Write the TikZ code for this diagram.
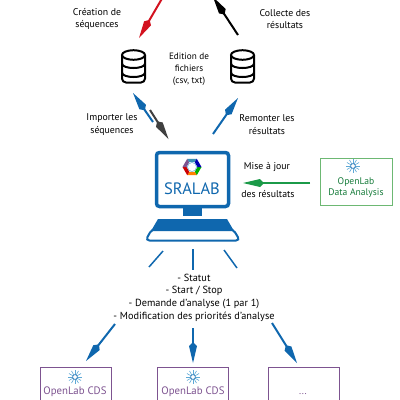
\documentclass[tikz,border=0pt]{standalone}
\usepackage{fontspec}
\setmainfont{PT Sans}
\usetikzlibrary{arrows.meta}
\definecolor{bleu}{HTML}{0F67AE}
\definecolor{rouge}{HTML}{D3121F}
\definecolor{vert}{HTML}{1B9A48}
\definecolor{vertclair}{HTML}{6DB873}
\definecolor{violet}{HTML}{7D5390}
\definecolor{ciel}{HTML}{5FA9D6}
\newcommand{\soleil}[2]{%
  \foreach \a in {0,30,...,330}{\draw[ciel, line width=0.6pt] (#1,#2) -- ++(\a:7);}
  \fill[white] (#1,#2) circle (2.6);
  \draw[bleu, line width=0.6pt] (#1,#2) circle (2.4);
}
\begin{document}
\begin{tikzpicture}[
  x=1pt, y=-1pt,
  txt/.style={align=center, inner sep=0pt, font=\fontsize{9.8}{12.6}\selectfont},
  bdd/.style={minimum width=25pt, minimum height=33pt, inner sep=0pt},
  fleche/.style={-{Kite[length=21pt, width=8pt, inset=4pt]}, line width=2pt},
  rayon/.style={bleu, line width=1.5pt},
  ecran/.style={draw=bleu, fill=white, line width=3.5pt, rounded corners=3pt, minimum width=72pt, minimum height=54pt},
  boite/.style={draw=violet, line width=0.9pt, minimum width=71pt, minimum height=60pt, anchor=north west, inner sep=0pt},
  logiciel/.style={txt, text=violet, font=\fontsize{10.8}{11.5}\selectfont}
]
\useasboundingbox (0,0) rectangle (400,400);
\clip (0,0) rectangle (400,400);

\node[txt] (creation) at (97,19) {Création de\\séquences};
\node[txt] (collecte) at (285,19) {Collecte des\\résultats};
\node[txt, font=\fontsize{9.2}{11.8}\selectfont] (edition) at (189,69) {Edition de\\fichiers\\(csv, txt)};
\node[txt] (importer) at (112,124.5) {Importer les\\séquences};
\node[txt] (remonter) at (267,124.5) {Remonter les\\résultats};
\node[txt] (maj) at (267,167) {Mise à jour};
\node[txt] (desres) at (268,194) {des résultats};
\node[txt, font=\fontsize{10.3}{12.7}\selectfont] (liste) at (194,297.5) {- Statut\\- Start / Stop\\- Demande d'analyse (1 par 1)\\- Modification des priorités d'analyse};

% bases de donnees
\foreach \nom/\cx in {bddG/133.5, bddD/242.5}{
  \node[bdd] (\nom) at (\cx,66.5) {};
  \begin{scope}[shift={(\cx,66.5)}, line width=2pt]
    \draw (0,-11.5) ellipse (11.5 and 4.8);
    \draw[rounded corners=4pt] (-11.5,-11.5) -- (-11.5,16) -- (11.5,16) -- (11.5,-11.5);
    \draw (-11.5,-3) .. controls (-11.5,3) and (11.5,3) .. (11.5,-3);
    \draw (-11.5,6) .. controls (-11.5,12) and (11.5,12) .. (11.5,6);
  \end{scope}
}

% poste SRALAB
\fill[bleu] (183,207) rectangle (202,216);
\node[ecran] (sralab) at (192.5,179.5) {};
\node[inner sep=0pt, text=bleu, font=\fontsize{16.5}{17}\selectfont] (nomsralab) at (192,189) {SRALAB};
\foreach \a/\c in {30/green!70!black, 90/orange, 150/red!80!black, 210/violet, 270/cyan!70!black, 330/blue!70!black}{
  \fill[\c, shift={(192,167)}] (\a-30:9.5) -- (\a+30:9.5) -- (\a+30:5.5) -- (\a-30:5.5) -- cycle;
}
\node[circle, fill=white, draw=ciel, line width=0.5pt, minimum size=9pt, inner sep=0pt] (logo) at (192,167) {};
\draw[bleu, line width=2pt, rounded corners=4pt, fill=white] (152,229) -- (233,229) -- (240,240.5) -- (145.5,240.5) -- cycle;
\fill[bleu] (158,219) -- (227,219) -- (234,231) -- (151,231) -- cycle;

\coordinate (r1a) at (163,251); \coordinate (r1b) at (149,267);
\coordinate (r2a) at (193,249); \coordinate (r2b) at (193,270);
\coordinate (r3a) at (224,250); \coordinate (r3b) at (237,268);
\draw[rayon] (r1a) -- (r1b);
\draw[rayon] (r2a) -- (r2b);
\draw[rayon] (r3a) -- (r3b);

% data analysis
\node[draw=vertclair, line width=0.9pt, minimum width=72pt, minimum height=47pt, inner sep=0pt] (analysis) at (356,181.5) {};
\soleil{353}{166}
\node[logiciel, text=vert!80!black, font=\fontsize{9.6}{11.5}\selectfont] (nomanalysis) at (356,187.5) {OpenLab\\Data Analysis};

% postes CDS
\node[boite] (cds1) at (40,367) {};
\node[boite] (cds2) at (157,367) {};
\node[boite] (cds3) at (268,367) {};
\soleil{75}{377}
\soleil{193}{377}
\node[logiciel] (nomcds1) at (75,392) {OpenLab CDS};
\node[logiciel] (nomcds2) at (193,392) {OpenLab CDS};
\node[txt, text=violet] (nomcds3) at (303,394) {...};

% fleches
\coordinate (a1) at (174,-22); \coordinate (b1) at (139,38);
\coordinate (a2) at (238,35); \coordinate (b2) at (213,-3);
\coordinate (a3) at (153,122); \coordinate (b3) at (133,93);
\coordinate (a4) at (150,110); \coordinate (b4) at (168.5,139);
\coordinate (a5) at (213,134); \coordinate (b5) at (238,98);
\coordinate (a6) at (310,183); \coordinate (b6) at (243,183);
\coordinate (a7) at (115,324); \coordinate (b7) at (86,361);
\coordinate (a8) at (193,328); \coordinate (b8) at (193,363);
\coordinate (a9) at (272,323); \coordinate (b9) at (297,363);
\draw[fleche, rouge] (a1) -- (b1);
\draw[fleche, black] (a2) -- (b2);
\draw[fleche, bleu] (a3) -- (b3);
\draw[fleche, black!75] (a4) -- (b4);
\draw[fleche, bleu] (a5) -- (b5);
\draw[fleche, vert] (a6) -- (b6);
\draw[fleche, bleu] (a7) -- (b7);
\draw[fleche, bleu] (a8) -- (b8);
\draw[fleche, bleu] (a9) -- (b9);
\end{tikzpicture}
\end{document}
